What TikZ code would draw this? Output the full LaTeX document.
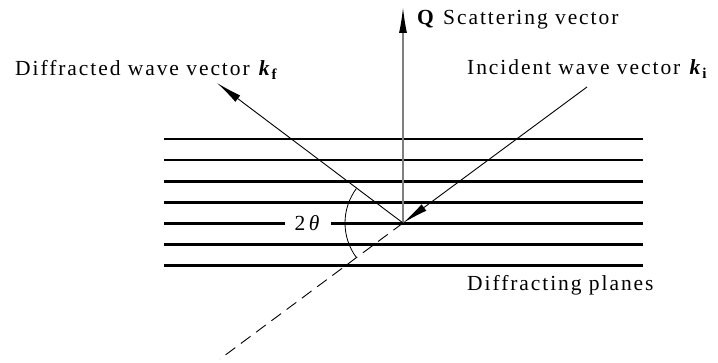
\documentclass[tikz,border=0pt]{standalone}
\usepackage{fontspec}
\setmainfont[LetterSpace=9]{Liberation Serif}
\usetikzlibrary{arrows.meta}

\newcommand{\kvec}[1]{\textbf{\textit{k}}\textsubscript{\textbf{#1}}}

\begin{document}
\begin{tikzpicture}[
    x=1pt, y=-1pt,
    plane/.style={line width=2.8pt, black},
    ray/.style={line width=0.9pt, black},
    tip/.style={-{Latex[length=26pt, width=8pt, color=black]}},
    lbl/.style={anchor=base west, inner sep=0pt, font=\fontsize{21.5}{24}\selectfont},
]
    \useasboundingbox (0,0) rectangle (718,363);

    \coordinate (o) at (403,223);
    \coordinate (qtip) at (403,7);
    \coordinate (kftip) at (217,83);
    \coordinate (kistart) at (587,87);
    \coordinate (dashend) at (220,359);

    \foreach \i in {0,...,6}
        \draw[plane] (164,139+21.1*\i) -- (643,139+21.1*\i);

    \node[fill=white, inner xsep=10pt, inner ysep=3pt, font=\fontsize{21.5}{24}\selectfont] (angle) at (308,223) {2\,\textit{θ}};

    \draw[gray, line width=1.5pt, tip] (o) -- (qtip);
    \draw[ray, tip] (o) -- (kftip);
    \draw[ray, tip] (kistart) -- (o);
    \draw[ray, dash pattern=on 12pt off 7pt] (o) -- (dashend);
    \draw[line width=0.8pt] ([shift={(o)}]216.5:58) arc[start angle=216.5, end angle=143.5, radius=58];

    \node[lbl] (kflabel) at (15,76) {Diffracted wave vector \kvec{f}};
    \node[lbl] (qlabel) at (417,25) {\textbf{Q} Scattering vector};
    \node[lbl] (kilabel) at (467,75) {Incident wave vector \kvec{i}};
    \node[lbl] (planeslabel) at (467,291) {Diffracting planes};
\end{tikzpicture}
\end{document}
